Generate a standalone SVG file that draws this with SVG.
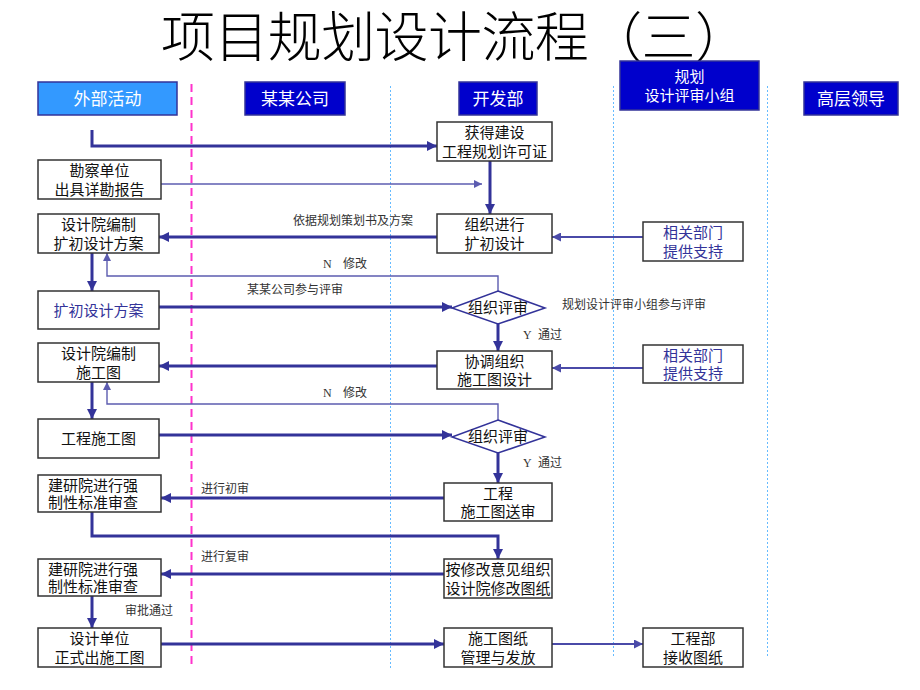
<svg xmlns="http://www.w3.org/2000/svg" width="920" height="690" viewBox="0 0 920 690">
<defs>
<style>
.t{font-family:"Liberation Serif","Noto Sans CJK SC",serif;fill:#111;font-size:15px;text-anchor:middle}
.tb{fill:#333399}
.tl{text-anchor:start}
.hd{font-family:"Liberation Serif","Noto Sans CJK SC",serif;fill:#fff;font-size:17px;text-anchor:middle}
.lb{font-family:"Liberation Serif","Noto Sans CJK SC",serif;fill:#333;font-size:12px}
.box{fill:#fff;stroke:#333;stroke-width:1.5}
.hbox{fill:#0000cc;stroke:#333399;stroke-width:1.5}
.dia{fill:#fff;stroke:#333399;stroke-width:1.5}
.thick{fill:none;stroke:#333399;stroke-width:3;marker-end:url(#ak)}
.med{fill:none;stroke:#4a4aa8;stroke-width:2;marker-end:url(#am)}
.thin{fill:none;stroke:#5c5cb0;stroke-width:1.4;marker-end:url(#an)}
.pink{stroke:#ff33cc;stroke-width:2;stroke-dasharray:8 5}
.dot{stroke:#66bbff;stroke-width:1;stroke-dasharray:2 2}
</style>
<marker id="ak" viewBox="0 0 10 10" refX="10" refY="5" markerWidth="11" markerHeight="10" markerUnits="userSpaceOnUse" orient="auto"><path d="M0,0 L10,5 L0,10 z" fill="#333399"/></marker>
<marker id="am" viewBox="0 0 10 10" refX="10" refY="5" markerWidth="10" markerHeight="9" markerUnits="userSpaceOnUse" orient="auto"><path d="M0,0 L10,5 L0,10 z" fill="#4a4aa8"/></marker>
<marker id="an" viewBox="0 0 10 10" refX="10" refY="5" markerWidth="9" markerHeight="8" markerUnits="userSpaceOnUse" orient="auto"><path d="M0,0 L10,5 L0,10 z" fill="#5c5cb0"/></marker>
</defs>
<rect width="920" height="690" fill="#fff"/>
<text x="455" y="57" font-family="'Liberation Serif','Noto Sans CJK SC',serif" font-size="54" font-weight="300" fill="#000" text-anchor="middle" textLength="588" lengthAdjust="spacing">项目规划设计流程（三）</text>

<g id="lanes">
<line class="pink" x1="191.5" y1="84" x2="191.5" y2="668"/>
<line class="dot" x1="390.5" y1="86" x2="390.5" y2="668"/>
<line class="dot" x1="613.5" y1="86" x2="613.5" y2="658"/>
<line class="dot" x1="767.5" y1="86" x2="767.5" y2="658"/>
</g>

<g id="headers">
<g id="h-waibu"><rect x="38" y="82" width="139" height="33" fill="#3399ff" stroke="#333399" stroke-width="1.5"/><text class="hd" x="107.5" y="105">外部活动</text></g>
<g id="h-company"><rect class="hbox" x="245" y="82" width="100" height="33"/><text class="hd" x="295" y="105">某某公司</text></g>
<g id="h-dev"><rect class="hbox" x="459" y="82" width="78" height="33"/><text class="hd" x="498" y="105">开发部</text></g>
<g id="h-review"><rect class="hbox" x="620" y="61" width="139" height="49"/><text class="hd" x="689.5" y="82" style="font-size:15px">规划</text><text class="hd" x="689.5" y="101" style="font-size:15px">设计评审小组</text></g>
<g id="h-leader"><rect class="hbox" x="804" y="82" width="94" height="33"/><text class="hd" x="851" y="105">高层领导</text></g>
</g>

<g id="connectors">
<path class="thick" d="M92,130 V146 H437"/>
<path class="thin" d="M161,184 H482"/>
<path class="thick" d="M490,161 V214"/>
<path class="thick" d="M437,237 H159"/>
<path class="med" d="M643,237 H552"/>
<path class="thick" d="M92,253 V291"/>
<path class="thin" d="M498,291 V276 H107 V253"/>
<path class="thick" d="M159,307 H452"/>
<path class="thick" d="M498,324 V351"/>
<path class="thick" d="M437,366 H159"/>
<path class="med" d="M643,368 H552"/>
<path class="thick" d="M92,382 V419"/>
<path class="thin" d="M498,420 V404 H107 V382"/>
<path class="thick" d="M159,435 H452"/>
<path class="thick" d="M498,453 V483"/>
<path class="thick" d="M444,498 H161"/>
<path class="thick" d="M92,512 V536 H498 V559"/>
<path class="thick" d="M444,574 H161"/>
<path class="thick" d="M92,596 V628"/>
<path class="thick" d="M161,644 H444"/>
<path class="med" d="M552,644 H643"/>
<text class="lb" x="293" y="225">依据规划策划书及方案</text>
<text class="lb" x="323" y="268">N</text><text class="lb" x="343" y="268">修改</text>
<text class="lb" x="247" y="294">某某公司参与评审</text>
<text class="lb" x="562" y="309">规划设计评审小组参与评审</text>
<text class="lb" x="523" y="339">Y</text><text class="lb" x="538" y="339">通过</text>
<text class="lb" x="323" y="397">N</text><text class="lb" x="343" y="397">修改</text>
<text class="lb" x="523" y="467">Y</text><text class="lb" x="538" y="467">通过</text>
<text class="lb" x="201" y="493">进行初审</text>
<text class="lb" x="201" y="561">进行复审</text>
<text class="lb" x="125" y="615">审批通过</text>
</g>

<g id="n-survey"><rect class="box" x="38" y="160" width="123" height="39"/><text class="t" x="99.5" y="176">勘察单位</text><text class="t" x="99.5" y="195">出具详勘报告</text></g>
<g id="n-design1"><rect class="box" x="38" y="214" width="121" height="39"/><text class="t" x="98.5" y="230">设计院编制</text><text class="t" x="98.5" y="249">扩初设计方案</text></g>
<g id="n-plan"><rect class="box" x="38" y="291" width="121" height="38"/><text class="t tb" x="98.5" y="316">扩初设计方案</text></g>
<g id="n-design2"><rect class="box" x="38" y="343" width="121" height="39"/><text class="t" x="98.5" y="359">设计院编制</text><text class="t" x="98.5" y="378">施工图</text></g>
<g id="n-drawing"><rect class="box" x="38" y="419" width="121" height="39"/><text class="t" x="98.5" y="444">工程施工图</text></g>
<g id="n-check1"><rect class="box" x="38" y="475" width="123" height="37"/><text class="t tl" x="48" y="491">建研院进行强</text><text class="t tl" x="48" y="508">制性标准审查</text></g>
<g id="n-check2"><rect class="box" x="38" y="559" width="123" height="37"/><text class="t tl" x="48" y="575">建研院进行强</text><text class="t tl" x="48" y="592">制性标准审查</text></g>
<g id="n-issue"><rect class="box" x="38" y="628" width="123" height="39"/><text class="t" x="99.5" y="644">设计单位</text><text class="t" x="99.5" y="663">正式出施工图</text></g>

<g id="n-permit"><rect class="box" x="437" y="122" width="115" height="39"/><text class="t" x="494.5" y="138">获得建设</text><text class="t" x="494.5" y="157">工程规划许可证</text></g>
<g id="n-org1"><rect class="box" x="437" y="214" width="115" height="39"/><text class="t" x="494.5" y="230">组织进行</text><text class="t" x="494.5" y="249">扩初设计</text></g>
<g id="n-review1"><polygon class="dia" points="498,291 545,308 498,324 452,308"/><text class="t" x="498" y="313">组织评审</text></g>
<g id="n-coord"><rect class="box" x="437" y="351" width="115" height="38"/><text class="t" x="494.5" y="367">协调组织</text><text class="t" x="494.5" y="385">施工图设计</text></g>
<g id="n-review2"><polygon class="dia" points="498,420 545,437 498,453 452,437"/><text class="t" x="498" y="442">组织评审</text></g>
<g id="n-submit"><rect class="box" x="444" y="483" width="108" height="38"/><text class="t" x="498" y="499">工程</text><text class="t" x="498" y="517">施工图送审</text></g>
<g id="n-revise"><rect class="box" x="444" y="559" width="108" height="39"/><text class="t" x="498" y="575">按修改意见组织</text><text class="t" x="498" y="594">设计院修改图纸</text></g>
<g id="n-manage"><rect class="box" x="444" y="628" width="108" height="39"/><text class="t" x="498" y="644">施工图纸</text><text class="t" x="498" y="663">管理与发放</text></g>

<g id="n-support1"><rect class="box" x="643" y="222" width="100" height="39"/><text class="t tb" x="693" y="238">相关部门</text><text class="t tb" x="693" y="257">提供支持</text></g>
<g id="n-support2"><rect class="box" x="643" y="345" width="100" height="38"/><text class="t tb" x="693" y="361">相关部门</text><text class="t tb" x="693" y="379">提供支持</text></g>
<g id="n-receive"><rect class="box" x="643" y="628" width="100" height="39"/><text class="t" x="693" y="644">工程部</text><text class="t" x="693" y="663">接收图纸</text></g>
</svg>
